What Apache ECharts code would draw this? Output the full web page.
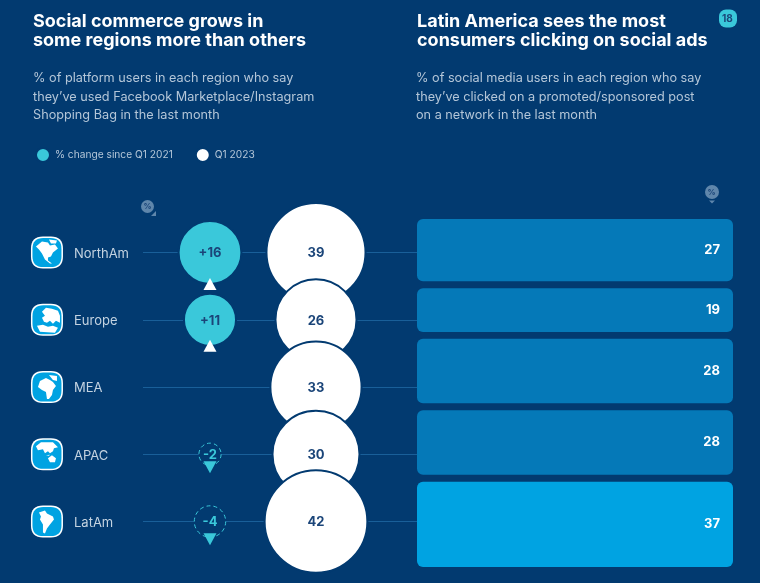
<!DOCTYPE html>
<html>
<head>
<meta charset="utf-8">
<style>html,body{margin:0;padding:0;background:#023a70}#chart{width:760px;height:583px}</style>
<script src="https://cdn.jsdelivr.net/npm/echarts@6/dist/echarts.min.js"></script>
</head>
<body>
<div id="chart"></div>
<script>
const regions = ['NorthAm', 'Europe', 'MEA', 'APAC', 'LatAm'];
const q1Values = [39, 26, 33, 30, 42];
const changeValues = [16, 11, null, -2, -4];
const clickValues = [27, 19, 28, 28, 37];

const BG = '#023a70', NAVY = '#1b4579', TEAL = '#3ac8da', SKY = '#00a3e2', BLUE = '#0579b8';
const FONT = 'Inter';
const bubbleSize = v => 15.7 * Math.sqrt(Math.abs(v));

// x axis: 0 is the change column, 1 is the Q1 2023 column
const COL_CHANGE = 0, COL_Q1 = 1, COL_ICON = -1.538;
const GAP = 3; // gap between stacked bars, in value units

const SQUIRCLE = 'path://M12 0H20C28 0 32 4 32 12V20C32 28 28 32 20 32H12C4 32 0 28 0 20V12C0 4 4 0 12 0Z';
const FRAME = 'M0 0h.01v.01zM28 28h.01v.01z'; // keeps every map on the same box
const maps = [
  'M3 8L9 3L15 4L17 7L22 6L25 10L20 14L18 18L15 19L15 22L19 25L17 25L12 21L9 15L6 11ZM16 1L24 2L23 5L18 5Z',
  'M9 6L13 2L19 3L25 5L27 10L27 17L23 15L20 18L17 15L14 17L11 16L9 12L12 10ZM4 20L10 19L15 21L20 20L25 22L22 27L7 26Z',
  'M7 8L13 5L17 7L20 9L23 13L20 17L19 22L16 26L14 26L13 19L9 17L5 14ZM16 2L24 3L24 8L20 7Z',
  'M3 6L8 2L20 2L25 7L21 8L20 11L17 13L15 11L12 13L10 9L5 10ZM15 18L19 15L23 18L22 22L17 22ZM13 15L17 14.5L16 15.5Z',
  'M6 5L12 3L14 6L20 9L21 12L17 17L14 21L12 26L10 25L10 17L7 12L8 9Z'
].map(p => 'path://' + FRAME + p);

// stacked extents of the right hand bars
let cursor = 0;
const barData = clickValues.map(v => {
  const item = [cursor, cursor + v, v];
  cursor += v + GAP;
  return item;
});
const barMax = cursor - GAP;
const topValue = Math.max(...clickValues);

const changeData = [];
const arrowData = [];
changeValues.forEach((v, i) => {
  if (v === null) return;
  const up = v > 0;
  const r = bubbleSize(v) / 2;
  changeData.push({
    value: [COL_CHANGE, i, v],
    itemStyle: up ? undefined : { color: BG, borderColor: TEAL, borderWidth: 1, borderType: [4, 3] },
    label: up ? undefined : { color: TEAL }
  });
  arrowData.push({
    value: [COL_CHANGE, i],
    symbolRotate: up ? 0 : 180,
    symbolOffset: [0, up ? r : r + 2],
    itemStyle: { color: up ? '#fff' : TEAL }
  });
});

const titleBlock = (left, top, text, size, color, weight, lh) => ({
  left, top, text, padding: 0,
  textStyle: { color, fontSize: size, fontWeight: weight, lineHeight: lh, fontFamily: FONT }
});

const option = {
  animation: false,
  backgroundColor: BG,
  title: [
    titleBlock(33, 12, 'Social commerce grows in\nsome regions more than others', 18, '#fff', 700, 19),
    titleBlock(417, 12, 'Latin America sees the most\nconsumers clicking on social ads', 18, '#fff', 700, 19),
    titleBlock(33, 69, '% of platform users in each region who say\nthey\u2019ve used Facebook Marketplace/Instagram\nShopping Bag in the last month', 12.7, '#b4c6d8', 400, 18.5),
    titleBlock(416, 69, '% of social media users in each region who say\nthey\u2019ve clicked on a promoted/sponsored post\non a network in the last month', 12.7, '#b4c6d8', 400, 18.5)
  ],
  legend: {
    left: 35, top: 147, padding: 0, itemWidth: 14, itemHeight: 14, itemGap: 22, icon: 'circle',
    data: ['% change since Q1 2021', 'Q1 2023'],
    selectedMode: false,
    textStyle: { color: '#b4c6d8', fontSize: 10.2, fontFamily: FONT }
  },
  grid: [
    { left: 143, width: 274, top: 252.5, height: 269 },
    { left: 417, width: 316, top: 219, height: 348 }
  ],
  xAxis: [
    { gridIndex: 0, type: 'value', min: -0.632, max: 1.953, show: false },
    { gridIndex: 1, type: 'value', min: 0, max: 1, show: false }
  ],
  yAxis: [
    {
      gridIndex: 0, type: 'category', data: regions, inverse: true, boundaryGap: false,
      axisLine: { show: false }, axisTick: { show: false },
      axisLabel: { margin: 69, align: 'left', verticalAlign: 'top', lineHeight: 3, color: '#c4d3e1', fontSize: 13, fontFamily: FONT },
      splitLine: { show: true, lineStyle: { color: '#195f99', width: 1 } }
    },
    { gridIndex: 1, type: 'value', min: 0, max: barMax, inverse: true, show: false }
  ],
  series: [
    {
      type: 'scatter', name: 'icon', clip: false, silent: true, symbol: SQUIRCLE, symbolSize: 32,
      itemStyle: { color: '#fff', opacity: 1 },
      data: regions.map((r, i) => [COL_ICON, i])
    },
    {
      type: 'scatter', name: 'iconFill', clip: false, silent: true, symbol: SQUIRCLE, symbolSize: 29,
      itemStyle: { color: SKY, opacity: 1 },
      data: regions.map((r, i) => [COL_ICON, i])
    },
    {
      type: 'scatter', name: 'iconMap', clip: false, silent: true, symbolSize: 28,
      itemStyle: { color: '#fff', opacity: 1 },
      data: regions.map((r, i) => ({ value: [COL_ICON, i], symbol: maps[i] }))
    },
    {
      type: 'scatter', name: '% change since Q1 2021', silent: true,
      symbol: 'circle',
      symbolSize: d => bubbleSize(d[2]),
      itemStyle: { color: TEAL, borderColor: BG, borderWidth: 2, opacity: 1 },
      label: {
        show: true, position: 'inside', color: NAVY, fontSize: 13, fontWeight: 700, fontFamily: FONT,
        offset: [0, 1],
        formatter: p => (p.value[2] > 0 ? '+' : '') + p.value[2]
      },
      data: changeData
    },
    {
      type: 'scatter', name: 'arrow', silent: true, symbol: 'triangle', symbolSize: [13, 12], z: 3,
      itemStyle: { opacity: 1 },
      data: arrowData
    },
    {
      type: 'scatter', name: 'Q1 2023', silent: true, symbol: 'circle', z: 4,
      symbolSize: d => bubbleSize(d[2]) + 1,
      itemStyle: { color: '#fff', borderColor: BG, borderWidth: 2, opacity: 1 },
      label: {
        show: true, position: 'inside', color: NAVY, fontSize: 13, fontWeight: 700, fontFamily: FONT,
        offset: [0, 1],
        formatter: p => p.value[2]
      },
      data: q1Values.map((v, i) => [COL_Q1, i, v])
    },
    {
      type: 'custom', name: 'clicked', xAxisIndex: 1, yAxisIndex: 1, silent: true, z: 4,
      encode: { x: -1, y: [0, 1] },
      renderItem: (params, api) => {
        const a = api.coord([0, api.value(0)]);
        const b = api.coord([1, api.value(1)]);
        return {
          type: 'rect',
          shape: { x: a[0], y: a[1], width: b[0] - a[0], height: b[1] - a[1], r: 6 },
          style: { fill: api.value(2) === topValue ? SKY : BLUE },
          textContent: {
            style: { text: String(api.value(2)), fill: '#fff', fontSize: 13, fontWeight: 700, fontFamily: FONT }
          },
          textConfig: { position: 'insideRight', distance: 13 }
        };
      },
      data: barData
    }
  ],
  graphic: [
    // page number badge
    { type: 'rect', left: 719, top: 9.5, shape: { width: 18, height: 18, r: 7 }, style: { fill: TEAL } },
    { type: 'text', left: 722, top: 13.5, style: { text: '18', fill: NAVY, fontSize: 10, fontWeight: 700, fontFamily: FONT } },
    // unit markers
    { type: 'circle', left: 141, top: 200, shape: { r: 6.5 }, style: { fill: '#5f86ab' } },
    { type: 'text', left: 143.5, top: 203, style: { text: '%', fill: NAVY, fontSize: 8, fontWeight: 700, fontFamily: FONT } },
    { type: 'polygon', left: 151, top: 211, shape: { points: [[5, 0], [5, 5], [0, 5]] }, style: { fill: '#5f86ab' } },
    { type: 'circle', left: 705, top: 185, shape: { r: 7 }, style: { fill: '#5f86ab' } },
    { type: 'text', left: 707.5, top: 188.5, style: { text: '%', fill: NAVY, fontSize: 8, fontWeight: 700, fontFamily: FONT } },
    { type: 'polygon', left: 709, top: 200.5, shape: { points: [[0, 0], [6, 0], [3, 3]] }, style: { fill: '#5f86ab' } }
  ]
};

const chart = echarts.init(document.getElementById('chart'));
chart.setOption(option);
</script>
</body>
</html>
